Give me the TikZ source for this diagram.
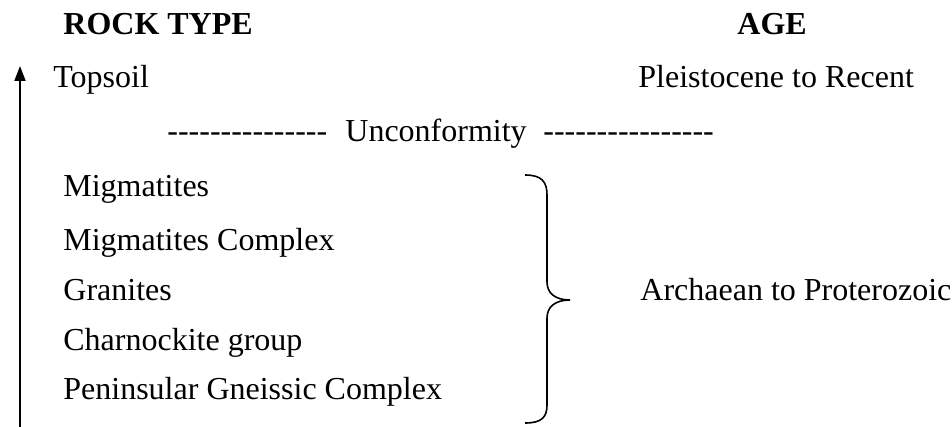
\documentclass[tikz,border=0pt]{standalone}
\usepackage{fontspec}
\setmainfont{Liberation Serif}
\usetikzlibrary{arrows.meta}
\newcommand{\dashrun}[1]{\foreach \i in {1,...,#1}{-{}}}
\tikzset{
  txt/.style={anchor=base west, inner sep=0pt, font=\fontsize{16}{19}\selectfont},
  head/.style={txt, font=\fontsize{16}{19}\selectfont\bfseries},
  axis/.style={line width=1pt, -{Triangle[width=5.5pt,length=7.5pt]}},
  brace/.style={line width=0.8pt}
}
\begin{document}
\begin{tikzpicture}[x=0.5pt,y=-0.5pt]
\useasboundingbox (0,0) rectangle (952,427);
\node[head] (rock) at (63,35) {ROCK TYPE};
\node[head] (age) at (737,35) {AGE};
\node[txt] (topsoil) at (53,88) {Topsoil};
\node[txt] (pleist) at (638,88) {Pleistocene to Recent};
\node[txt] (d1) at (167,142) {\dashrun{15}};
\node[txt] (unc) at (345,142) {Unconformity};
\node[txt] (d2) at (543,142) {\dashrun{16}};
\node[txt] (mig) at (63,197) {Migmatites};
\node[txt] (migc) at (63,250) {Migmatites Complex};
\node[txt] (gran) at (63,300) {Granites};
\node[txt] (char) at (63,350) {Charnockite group};
\node[txt] (pen) at (63,399) {Peninsular Gneissic Complex};
\node[txt] (arch) at (640,300) {Archaean to Proterozoic};
\coordinate (abot) at (20,427);
\coordinate (atop) at (20,66);
\draw[axis] (abot) -- (atop);
\draw[brace] (525,175) .. controls (542,175) and (547,182) .. (547,195) -- (547,282)
  .. controls (547,293) and (555,300) .. (570,300)
  .. controls (555,300) and (547,307) .. (547,318) -- (547,405)
  .. controls (547,417) and (542,423) .. (525,423);
\end{tikzpicture}
\end{document}
